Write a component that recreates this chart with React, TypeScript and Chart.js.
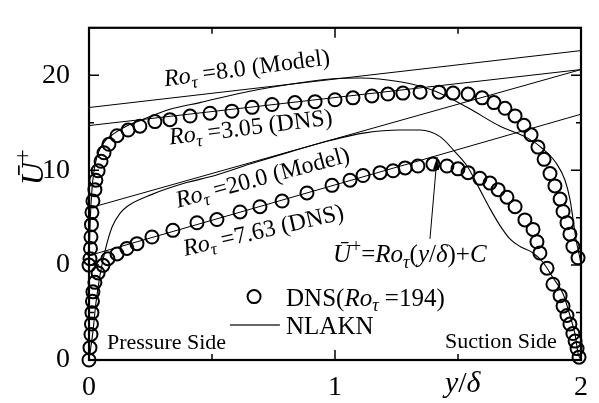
import React, { useEffect, useRef } from 'react';
import { Chart, registerables } from 'chart.js';

Chart.register(...registerables);

// Upper group (Ro_tau = 3.05 DNS / 8.0 model) is shifted up by OFFSET on the axis
const OFFSET = 10;

// DNS, Ro_tau = 3.05 (unshifted values)
const dns305X = [0, 0.004, 0.006, 0.008, 0.010, 0.012, 0.016, 0.024, 0.028, 0.037, 0.049, 0.061, 0.081, 0.114, 0.159, 0.207, 0.268, 0.329, 0.411, 0.492, 0.581, 0.663, 0.744, 0.837, 0.919, 1.000, 1.073, 1.150, 1.215, 1.276, 1.346, 1.423, 1.480, 1.541, 1.598, 1.646, 1.691, 1.732, 1.768, 1.797, 1.825, 1.850, 1.874, 1.894, 1.915, 1.927, 1.943, 1.955, 1.967, 1.988];
const dns305U = [0, 0.67, 1.76, 2.96, 4.26, 5.55, 6.75, 7.95, 8.94, 9.94, 10.94, 11.83, 12.73, 13.63, 14.23, 14.63, 15.12, 15.32, 15.7, 16.0, 16.22, 16.62, 16.92, 17.12, 17.22, 17.42, 17.62, 17.82, 18.02, 18.12, 18.22, 18.22, 18.12, 18.02, 17.62, 17.12, 16.52, 15.72, 14.73, 13.73, 12.43, 11.14, 9.64, 8.34, 6.95, 5.65, 4.46, 3.26, 1.96, 0.77];

// DNS, Ro_tau = 7.63
const dns763X = [0, 0.004, 0.008, 0.010, 0.012, 0.014, 0.016, 0.024, 0.037, 0.057, 0.077, 0.114, 0.154, 0.195, 0.256, 0.341, 0.439, 0.520, 0.614, 0.695, 0.785, 0.886, 0.988, 1.061, 1.114, 1.183, 1.236, 1.285, 1.337, 1.398, 1.455, 1.500, 1.541, 1.589, 1.630, 1.663, 1.699, 1.732, 1.772, 1.805, 1.821, 1.833, 1.862, 1.886, 1.915, 1.927, 1.943, 1.955, 1.967, 1.976, 1.984, 1.992];
const dns763U = [0, 1.30, 2.69, 3.79, 4.99, 6.18, 7.18, 8.18, 9.17, 9.97, 10.67, 11.17, 11.76, 12.26, 12.96, 13.66, 14.46, 14.8, 15.6, 16.15, 16.75, 17.6, 18.4, 18.94, 19.44, 19.74, 19.94, 20.24, 20.44, 20.64, 20.44, 20.14, 19.74, 19.14, 18.64, 17.95, 17.15, 16.15, 14.76, 13.76, 12.46, 11.27, 9.67, 7.98, 6.78, 5.68, 4.69, 3.79, 2.79, 1.99, 1.20, 0.30];

// NLAKN model, Ro_tau = 8.0 (unshifted)
const model8X = [0, 0.004, 0.012, 0.028, 0.061, 0.106, 0.159, 0.207, 0.329, 0.451, 0.654, 0.858, 0.980, 1.102, 1.264, 1.398, 1.537, 1.671, 1.780, 1.846, 1.902, 1.935, 1.955, 1.967, 1.980, 1.996, 2.0];
const model8U = [0, 3.96, 7.95, 10.94, 12.93, 13.93, 14.73, 15.22, 16.42, 17.12, 18.32, 19.21, 19.61, 19.71, 19.31, 18.41, 16.62, 14.63, 13.43, 12.23, 10.64, 8.94, 6.95, 4.96, 2.66, 0.67, 0];

// NLAKN model, Ro_tau = 20.0
const model20X = [0, 0.016, 0.028, 0.045, 0.065, 0.093, 0.126, 0.159, 0.256, 0.390, 0.512, 0.654, 0.817, 0.980, 1.122, 1.264, 1.346, 1.427, 1.488, 1.537, 1.589, 1.630, 1.671, 1.711, 1.752, 1.805, 1.846, 1.886, 1.927, 1.955, 1.976, 1.988, 2.0];
const model20U = [0, 2.99, 5.98, 8.97, 11.47, 13.96, 15.45, 16.25, 17.45, 18.64, 19.44, 20.64, 21.93, 23.13, 23.93, 24.23, 24.23, 23.53, 21.93, 20.44, 17.95, 15.95, 14.16, 12.76, 11.96, 11.27, 10.27, 8.67, 6.98, 4.69, 2.69, 0.70, 0];

// Straight lines U+ = Ro (y/delta) + C
const lineX = [0, 2];
const line8U = [16.6, 22.6];     // Ro=8.0 (Model), upper group
const line305U = [14.7, 20.6];   // Ro=3.05 (DNS), upper group
const line20U = [16.0, 30.6];    // Ro=20.0 (Model)
const line763U = [11.0, 25.9];   // Ro=7.63 (DNS)

// Tick labels
const yTickValues = [0, 10, 20, 30];
const yTickLabels = ['0', '0', '10', '20'];
const xTickValues = [0, 1, 2];
const xTickLabels = ['0', '1', '2'];

const FONT = '"Liberation Serif", "Times New Roman", serif';

type Seg = { t: string; it?: boolean; sub?: boolean; sup?: boolean };

const roSegs = (rest: string, space = true): Seg[] => [
  { t: 'Ro', it: true },
  { t: 'τ', it: true, sub: true },
  { t: (space ? ' ' : '') + rest },
];

// annotations: anchor in data coordinates (axis values), rotation in degrees
const annotations: { x: number; y: number; rot: number; size: number; segs: Seg[] }[] = [
  { x: 0.309, y: 28.85, rot: -7.5, size: 24, segs: roSegs('=8.0 (Model)') },
  { x: 0.329, y: 22.7, rot: -7, size: 24, segs: roSegs('=3.05 (DNS)') },
  { x: 0.362, y: 16.05, rot: -15, size: 24, segs: roSegs('=20.0 (Model)') },
  { x: 0.390, y: 10.97, rot: -13, size: 24, segs: roSegs('=7.63 (DNS)') },
  {
    x: 0.992, y: 10.3, rot: 0, size: 25, segs: [
      { t: 'Ū', it: true }, { t: '+', sup: true }, { t: '=' },
      { t: 'Ro', it: true }, { t: 'τ', it: true, sub: true },
      { t: '(' }, { t: 'y', it: true }, { t: '/' }, { t: 'δ', it: true }, { t: ')+' }, { t: 'C', it: true },
    ],
  },
];

function segFont(s: Seg, size: number) {
  const fs = s.sub || s.sup ? size * 0.72 : size;
  return `${s.it ? 'italic ' : ''}${fs}px ${FONT}`;
}

function drawRich(ctx: CanvasRenderingContext2D, segs: Seg[], x: number, y: number, rot: number, size: number, align: 'left' | 'center' = 'left') {
  ctx.save();
  ctx.translate(x, y);
  ctx.rotate((rot * Math.PI) / 180);
  ctx.textBaseline = 'alphabetic';
  ctx.textAlign = 'left';
  ctx.fillStyle = '#000';
  let total = 0;
  for (const s of segs) {
    ctx.font = segFont(s, size);
    total += ctx.measureText(s.t).width;
  }
  let cx = align === 'center' ? -total / 2 : 0;
  for (const s of segs) {
    ctx.font = segFont(s, size);
    const dy = s.sub ? size * 0.22 : s.sup ? -size * 0.42 : 0;
    ctx.fillText(s.t, cx, dy);
    cx += ctx.measureText(s.t).width;
  }
  ctx.restore();
}

const pts = (xs: number[], ys: number[], off = 0) => xs.map((x, i) => ({ x, y: ys[i] + off }));

const overlayPlugin = {
  id: 'overlay',
  afterDraw(chart: any) {
    const ctx: CanvasRenderingContext2D = chart.ctx;
    const { left, right, top, bottom } = chart.chartArea;
    const xs = chart.scales.x;
    const ys = chart.scales.y;
    ctx.save();
    ctx.strokeStyle = '#000';
    // ticks (inward)
    ctx.lineWidth = 1.5;
    for (const t of ys.ticks) {
      const v = t.value;
      if (v <= ys.min || v >= ys.max) continue;
      const py = ys.getPixelForValue(v);
      const len = v % 10 === 0 ? 10 : 5;
      ctx.beginPath();
      ctx.moveTo(left, py); ctx.lineTo(left + len, py);
      ctx.moveTo(right, py); ctx.lineTo(right - len, py);
      ctx.stroke();
    }
    for (const t of xs.ticks) {
      const v = t.value;
      if (v <= xs.min || v >= xs.max) continue;
      const px = xs.getPixelForValue(v);
      const len = Number.isInteger(v) ? 10 : 6;
      ctx.beginPath();
      ctx.moveTo(px, bottom); ctx.lineTo(px, bottom - len);
      ctx.moveTo(px, top); ctx.lineTo(px, top + len);
      ctx.stroke();
    }
    // frame
    ctx.lineWidth = 2.2;
    ctx.strokeRect(left, top, right - left, bottom - top);

    // annotations
    for (const a of annotations) {
      drawRich(ctx, a.segs, xs.getPixelForValue(a.x), ys.getPixelForValue(a.y), a.rot, a.size);
    }
    // arrow
    const tx = xs.getPixelForValue(1.386), ty = ys.getPixelForValue(12.76);
    const hx = xs.getPixelForValue(1.415), hy = ys.getPixelForValue(21.4);
    const ang = Math.atan2(hy - ty, hx - tx);
    ctx.lineWidth = 1;
    ctx.beginPath(); ctx.moveTo(tx, ty); ctx.lineTo(hx, hy); ctx.stroke();
    ctx.fillStyle = '#000';
    ctx.beginPath();
    ctx.moveTo(hx, hy);
    ctx.lineTo(hx - 13 * Math.cos(ang) + 3 * Math.sin(ang), hy - 13 * Math.sin(ang) - 3 * Math.cos(ang));
    ctx.lineTo(hx - 13 * Math.cos(ang) - 3 * Math.sin(ang), hy - 13 * Math.sin(ang) + 3 * Math.cos(ang));
    ctx.closePath(); ctx.fill();

    // side labels
    ctx.font = `22px ${FONT}`;
    ctx.textBaseline = 'alphabetic';
    ctx.textAlign = 'left';
    ctx.fillText('Pressure Side', xs.getPixelForValue(0.073), ys.getPixelForValue(1.2));
    ctx.fillText('Suction Side', xs.getPixelForValue(1.447), ys.getPixelForValue(1.3));

    // legend
    const lcx = xs.getPixelForValue(0.671), lcy = ys.getPixelForValue(6.68);
    ctx.lineWidth = 2;
    ctx.beginPath(); ctx.arc(lcx, lcy, 6.5, 0, Math.PI * 2); ctx.stroke();
    const ltx = xs.getPixelForValue(0.801);
    drawRich(ctx, [{ t: 'DNS(' }, { t: 'Ro', it: true }, { t: 'τ', it: true, sub: true }, { t: ' =194)' }], ltx, lcy + 9, 0, 25);
    const l2y = ys.getPixelForValue(3.7);
    ctx.strokeStyle = '#333';
    ctx.lineWidth = 1.5;
    ctx.beginPath(); ctx.moveTo(xs.getPixelForValue(0.573), l2y); ctx.lineTo(xs.getPixelForValue(0.776), l2y); ctx.stroke();
    drawRich(ctx, [{ t: 'NLAKN' }], ltx, l2y + 9, 0, 25);

    // axis titles
    drawRich(ctx, [{ t: 'y', it: true }, { t: '/' }, { t: 'δ', it: true }], xs.getPixelForValue(1.447), bottom + 32, 0, 30);
    drawRich(ctx, [{ t: 'Ū', it: true }, { t: '+', sup: true }], left - 46, ys.getPixelForValue(20.3), -90, 32, 'center');
    ctx.restore();
  },
};

export default function App() {
  const ref = useRef<HTMLCanvasElement>(null);
  useEffect(() => {
    document.body.style.margin = '0';
    Chart.defaults.font.family = FONT;
    Chart.defaults.color = '#000';
    const dnsStyle = {
      showLine: false,
      pointRadius: 6.5,
      pointBorderWidth: 2,
      pointBorderColor: '#000',
      pointBackgroundColor: 'rgba(0,0,0,0)',
      clip: false as any,
    };
    const lineStyle = { borderColor: '#000', borderWidth: 1, pointRadius: 0, fill: false };
    const chart = new Chart(ref.current!, {
      type: 'line',
      data: {
        datasets: [
          { label: 'DNS 3.05', data: pts(dns305X, dns305U, OFFSET), ...dnsStyle },
          { label: 'DNS 7.63', data: pts(dns763X, dns763U), ...dnsStyle },
          { label: 'NLAKN 8.0', data: pts(model8X, model8U, OFFSET), ...lineStyle, borderWidth: 1.1, cubicInterpolationMode: 'monotone' },
          { label: 'NLAKN 20.0', data: pts(model20X, model20U), ...lineStyle, borderWidth: 1.1, cubicInterpolationMode: 'monotone' },
          { label: 'line 8.0', data: pts(lineX, line8U, OFFSET), ...lineStyle },
          { label: 'line 3.05', data: pts(lineX, line305U, OFFSET), ...lineStyle },
          { label: 'line 20.0', data: pts(lineX, line20U), ...lineStyle },
          { label: 'line 7.63', data: pts(lineX, line763U), ...lineStyle },
        ] as any,
      },
      options: {
        responsive: false,
        animation: false,
        devicePixelRatio: 1,
        layout: { padding: { left: 0, right: 18, top: 9, bottom: 0 } },
        plugins: { legend: { display: false }, tooltip: { enabled: false } },
        scales: {
          x: {
            type: 'linear',
            min: 0,
            max: 2,
            grid: { display: false },
            border: { display: false },
            ticks: {
              stepSize: 0.5,
              autoSkip: false,
              maxRotation: 0,
              padding: 3,
              font: { size: 28, family: FONT },
              color: '#000',
              callback: (v: any) => {
                const i = xTickValues.indexOf(Number(v));
                return i >= 0 ? xTickLabels[i] : '';
              },
            },
            afterFit: (s: any) => { s.height = 43; },
          },
          y: {
            type: 'linear',
            min: 0,
            max: 35,
            grid: { display: false },
            border: { display: false },
            ticks: {
              stepSize: 5,
              autoSkip: false,
              padding: 11,
              font: { size: 28, family: FONT },
              color: '#000',
              callback: (v: any) => {
                const i = yTickValues.indexOf(Number(v));
                return i >= 0 ? yTickLabels[i] : '';
              },
            },
            afterFit: (s: any) => { s.width = 89; },
          },
        },
      },
      plugins: [overlayPlugin],
    } as any);
    return () => chart.destroy();
  }, []);
  return (
    <div style={{ position: 'relative', width: 599, height: 403 }}>
      <canvas ref={ref} width={599} height={403} style={{ display: 'block' }} />
    </div>
  );
}
